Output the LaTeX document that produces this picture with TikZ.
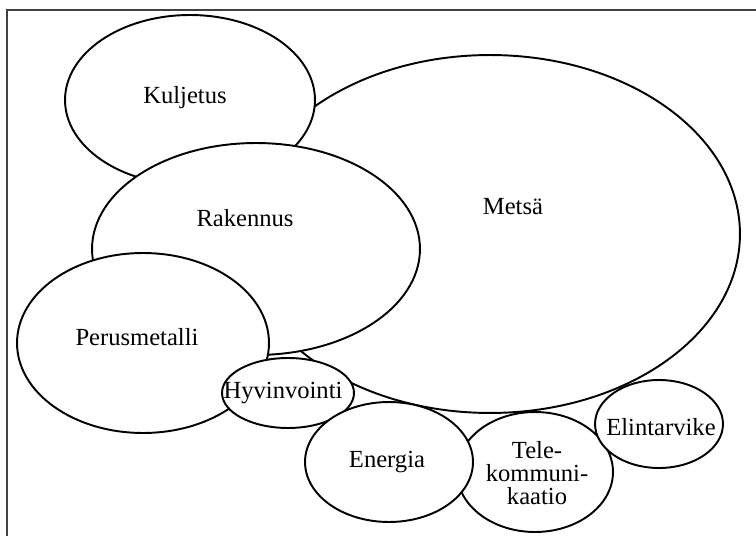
\documentclass[tikz,border=0pt]{standalone}
\usepackage{fontspec}
\setmainfont{Liberation Serif}
\usetikzlibrary{shapes.geometric}

\begin{document}
\begin{tikzpicture}[
  x=0.02cm, y=-0.02cm,
  sector/.style={draw, ellipse, fill=white, line width=1.1pt, inner sep=0pt, outer sep=0pt},
  every label/.style={align=center, inner sep=0pt, font=\fontsize{14}{13}\selectfont},
  frame/.style={line width=0.6pt, draw=black!75}
]
\useasboundingbox (0,0) rectangle (756,536);
\coordinate (topleft) at (7,10);
\coordinate (topright) at (756,10);
\coordinate (botleft) at (7,536);
\draw[frame] (topright) -- (topleft) -- (botleft);
\node[sector, minimum width=10cm, minimum height=7.16cm, label={[shift={(23,-27)}]center:Metsä}] (metsa) at (490,234) {};
\node[sector, minimum width=5cm, minimum height=3.4cm, label={[shift={(-5,-2)}]center:Kuljetus}] (kuljetus) at (190,100) {};
\node[sector, minimum width=6.56cm, minimum height=4.24cm, label={[shift={(-11,-31)}]center:Rakennus}] (rakennus) at (256,249) {};
\node[sector, minimum width=5.04cm, minimum height=3.6cm, label={[shift={(-6,-6)}]center:Perusmetalli}] (perus) at (143,343) {};
\node[sector, minimum width=2.64cm, minimum height=1.4cm, label={[shift={(-5,0)}]center:Hyvinvointi}] (hyvin) at (288,393) {};
\node[sector, minimum width=3.12cm, minimum height=2.4cm, label={[shift={(2,1)}]center:Tele-\\kommuni-\\kaatio}] (tele) at (535,472) {};
\node[sector, minimum width=3.36cm, minimum height=2.4cm, label={[shift={(-2,0)}]center:Energia}] (energia) at (389,462) {};
\node[sector, minimum width=2.56cm, minimum height=1.76cm, label={[shift={(2,3)}]center:Elintarvike}] (elintar) at (659,424) {};
\end{tikzpicture}
\end{document}
